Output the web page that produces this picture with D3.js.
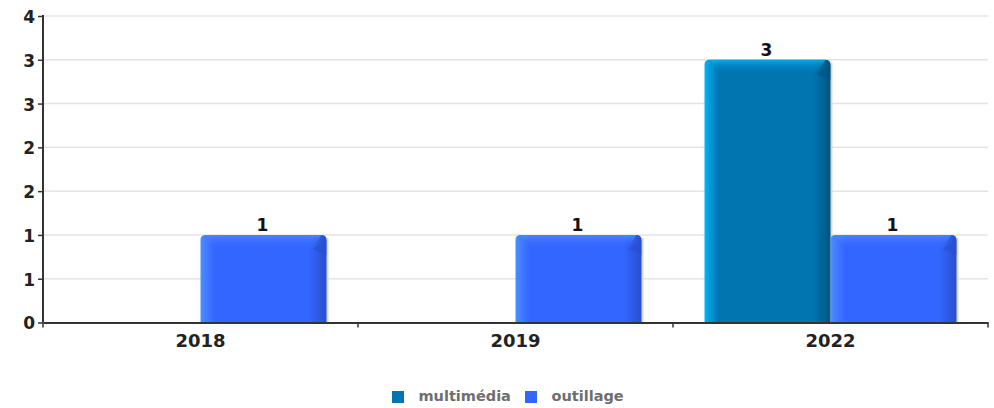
<!DOCTYPE html>
<html><head><meta charset="utf-8">
<script src="https://cdn.jsdelivr.net/npm/d3@7"></script>
<style>body{margin:0;background:#fff}svg{display:block;font-family:"DejaVu Sans",sans-serif}</style>
</head><body><svg id="c" width="994" height="408"></svg>
<script>
const categories = ["2018", "2019", "2022"];
const seriesNames = ["multimédia", "outillage"];
const multimedia = [0, 0, 3];
const outillage = [1, 1, 1];
const yTicks = [0, 0.5, 1, 1.5, 2, 2.5, 3, 3.5];
const colors = {"multimédia": {main:"#0075b0", light:"#00b4f5", dark:"#005580"},
                "outillage": {main:"#3366ff", light:"#4d8dff", dark:"#284fcc"}};

const svg = d3.select("#c");
const m = {l:43, r:988, t:16, b:322.5};
const x = d3.scaleBand().domain(categories).range([m.l, m.r]);
const y = d3.scaleLinear().domain([0, 3.5]).range([m.b, m.t]);
const barW = 126;
const xs = d3.scaleBand().domain(seriesNames).range([0, barW*2]);

// grid
svg.append("g").selectAll("line").data(yTicks.slice(1)).join("line")
  .attr("x1", m.l).attr("x2", m.r).attr("y1", d=>y(d)).attr("y2", d=>y(d))
  .attr("stroke", "#e4e4e4").attr("stroke-width", 1.5);

const defs = svg.append("defs");
seriesNames.forEach((s,i)=>{
  const c = colors[s];
  const g = defs.append("linearGradient").attr("id","h"+i).attr("x1",0).attr("x2",1).attr("y1",0).attr("y2",0);
  g.append("stop").attr("offset",0).attr("stop-color",c.light);
  g.append("stop").attr("offset",0.11).attr("stop-color",c.main);
  g.append("stop").attr("offset",0.86).attr("stop-color",c.main);
  g.append("stop").attr("offset",1).attr("stop-color",c.dark);
  const v = defs.append("linearGradient").attr("id","v"+i).attr("x1",0).attr("x2",0).attr("y1",0).attr("y2",1);
  v.append("stop").attr("offset",0).attr("stop-color",c.light).attr("stop-opacity",1);
  v.append("stop").attr("offset",1).attr("stop-color",c.main).attr("stop-opacity",0);
});

const data = [];
categories.forEach((cat,ci)=>{
  [multimedia, outillage].forEach((arr,si)=>{
    data.push({cat, s:seriesNames[si], si, v:arr[ci]});
  });
});
const bars = svg.append("g").selectAll("g").data(data.filter(d=>d.v>0)).join("g")
  .attr("transform", d=>`translate(${x(d.cat)+x.bandwidth()/2-barW+xs(d.s)},0)`);
bars.each(function(d){
  const g = d3.select(this);
  const top = y(d.v), h = y(0)-top, w = xs.bandwidth(), r=5, bv=14;
  const c = colors[d.s];
  g.append("rect").attr("x",w-2).attr("y",top+3).attr("width",4).attr("height",h-3).attr("fill","#d8d8d8");
  const path = `M0,${top+h} V${top+r} Q0,${top} ${r},${top} H${w-r} Q${w},${top} ${w},${top+r} V${top+h} Z`;
  g.append("path").attr("d",path).attr("fill",`url(#h${d.si})`);
  g.append("path").attr("d",`M${r},${top} H${w-r} L${w-bv},${top+bv} H${bv} Z`).attr("fill",`url(#v${d.si})`).attr("opacity",0.85);
  g.append("path").attr("d",`M${w},${top+r} L${w},${top+bv+6} L${w-bv},${top+bv} Z`).attr("fill",c.dark).attr("opacity",0.6);
  g.append("text").attr("x",w/2-1).attr("y",top-3.5).attr("text-anchor","middle")
    .attr("font-size",17).attr("font-weight","bold").attr("fill","#111").text(d.v);
});

// axes
const yAxis = svg.append("g").attr("transform",`translate(${m.l},0)`)
  .call(d3.axisLeft(y).tickValues(yTicks).tickFormat(d=>Math.round(d)).tickSize(5).tickPadding(3));
yAxis.select(".domain").attr("stroke","#333").attr("stroke-width",2).attr("d",`M0,${m.t-1}V${m.b}`);
yAxis.selectAll(".tick line").attr("stroke","#333").attr("stroke-width",1.5);
yAxis.selectAll("text").attr("font-size",17).attr("font-weight","bold").attr("fill","#222")
  .attr("font-family","DejaVu Sans").attr("dy","0.38em");

const xAxis = svg.append("g").attr("transform",`translate(0,${m.b})`)
  .call(d3.axisBottom(x).tickSize(0).tickPadding(0));
xAxis.select(".domain").attr("stroke","#333").attr("stroke-width",2);
xAxis.selectAll("text").attr("font-size",18).attr("font-weight","bold").attr("fill","#222")
  .attr("font-family","DejaVu Sans").attr("dy",null).attr("y",24.5);
const bounds = categories.map(c=>x(c)).concat([m.r]);
svg.append("g").selectAll("line").data(bounds).join("line")
  .attr("x1",d=>d).attr("x2",d=>d).attr("y1",m.b).attr("y2",m.b+5).attr("stroke","#333").attr("stroke-width",1.5);

// legend
const lg = svg.append("g");
const lx = [392, 525];
seriesNames.forEach((s,i)=>{
  lg.append("rect").attr("x",lx[i]).attr("y",391).attr("width",12).attr("height",12).attr("fill",colors[s].main);
  lg.append("text").attr("x",lx[i]+26.5).attr("y",401).attr("font-size",14.5).attr("font-weight","bold")
    .attr("fill","#6e6e6e").text(s);
});
</script></body></html>
